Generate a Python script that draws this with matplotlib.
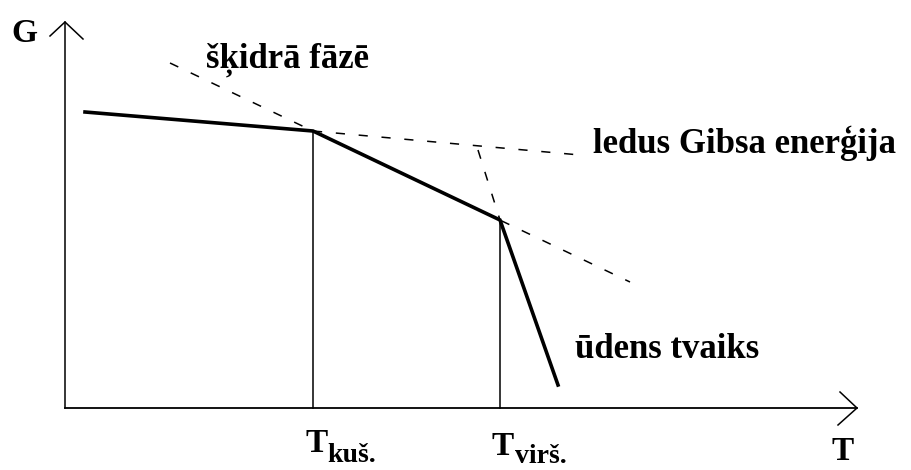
import numpy as np
import matplotlib
matplotlib.use('Agg')
import matplotlib.pyplot as plt

# T, G in "drawing units" (origin at axes crossing)
# solid line: stable phase Gibbs energy
sol_T = [20, 248, 435, 493]
sol_G = [296, 277, 188, 23]
# dashed extensions of each phase
ice_T = [248, 515]
ice_G = [277, 253]
liq_T = [105, 565]
liq_G = [345, 126]
vap_T = [413, 435]
vap_G = [258, 188]
# transition temperatures
T_kus, G_kus = 248, 277
T_virs, G_virs = 435, 188

serif = ['Liberation Serif', 'DejaVu Serif']

fig = plt.figure(figsize=(9.11, 4.70), dpi=100)
ax = fig.add_axes([0, 0, 1, 1])
ax.set_xlim(-65, 846)
ax.set_ylim(-62, 408)
ax.axis('off')

# axes with open arrow heads
ax.plot([0, 0], [0, 386], color='black', lw=1.1)
ax.plot([-15, 0, 18], [372, 386, 369], color='black', lw=1.1)
ax.plot([0, 792], [0, 0], color='black', lw=1.3)
ax.plot([775, 792, 773], [16, 0, -17], color='black', lw=1.1)

# dashed phase curves
dash = dict(color='black', lw=1.1, ls=(0, (6, 9)))
ax.plot(ice_T, ice_G, **dash)
ax.plot(liq_T, liq_G, **dash)
ax.plot(vap_T, vap_G, **dash)

# stable curve
ax.plot(sol_T, sol_G, color='black', lw=2.6, solid_joinstyle='miter')

# vertical markers
ax.plot([T_kus, T_kus], [0, G_kus], color='black', lw=1.1)
ax.plot([T_virs, T_virs], [0, G_virs], color='black', lw=1.1)

# labels
lab = dict(family=serif, fontweight='bold', va='baseline', ha='left')
ax.text(-54, 366, 'G', fontsize=24, **lab)
ax.text(767, -52, 'T', fontsize=24, **lab)
ax.text(241, -44, 'T', fontsize=24, **lab)
ax.text(262, -54, 'kuš.', fontsize=20, **lab)
ax.text(427, -47, 'T', fontsize=24, **lab)
ax.text(450, -55, 'virš.', fontsize=20, **lab)

ax.text(141, 340, 'šķidrā fāzē', fontsize=25, **lab)
ax.text(528, 255, 'ledus Gibsa enerģija', fontsize=25, **lab)
ax.text(510, 50, 'ūdens tvaiks', fontsize=25, **lab)

fig.savefig('out.png', dpi=100)
